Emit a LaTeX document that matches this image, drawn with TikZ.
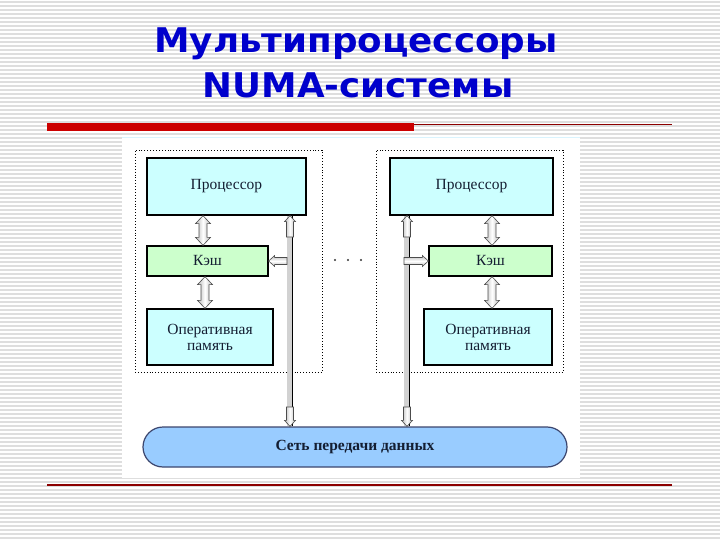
\documentclass[tikz,border=0pt]{standalone}
\usepackage{fontspec}
\setmainfont{Liberation Serif}
\newfontfamily\titlefont{DejaVu Sans}
\usetikzlibrary{calc}
\definecolor{ttlblue}{RGB}{0,0,204}
\definecolor{boxcyan}{RGB}{204,255,255}
\definecolor{boxgreen}{RGB}{204,255,204}
\definecolor{busblue}{RGB}{153,204,255}
\definecolor{busline}{RGB}{60,70,110}
\definecolor{barred}{RGB}{204,0,0}
\definecolor{linered}{RGB}{140,0,0}
\definecolor{txt}{RGB}{20,30,50}
\definecolor{stripe}{RGB}{222,222,222}
\tikzset{
  unitbox/.style={draw=black, line width=1.3pt, inner sep=0pt, align=center,
    font=\fontsize{15.5}{16}\selectfont, text=txt},
  groupbox/.style={draw=black, dotted, line width=0.9pt, inner sep=0pt},
  blk/.style={draw=black!70, line width=0.6pt, left color=gray!55, right color=gray!55, middle color=white},
  blkh/.style={draw=black!70, line width=0.6pt, top color=gray!55, bottom color=gray!55, middle color=white},
  busrail/.style={line width=6pt, gray!35},
  busedge/.style={line width=1.3pt, black},
  ttl/.style={font=\titlefont\bfseries\fontsize{34}{40}\selectfont, text=ttlblue, anchor=base, inner sep=0pt, xscale=1.05},
}
\newcommand{\dblV}[2]{\path[blk] let \p1=(#1), \p2=(#2) in
 (\x1,\y1) -- ({\x1+7.5pt},{\y1-8pt}) -- ({\x1+4pt},{\y1-8pt}) -- ({\x1+4pt},{\y2+8pt}) -- ({\x1+7.5pt},{\y2+8pt}) -- (\x1,\y2) -- ({\x1-7.5pt},{\y2+8pt}) -- ({\x1-4pt},{\y2+8pt}) -- ({\x1-4pt},{\y1-8pt}) -- ({\x1-7.5pt},{\y1-8pt}) -- cycle;}
\newcommand{\vArrow}[3]{\path[blk] let \p1=(#1), \p2=(#2) in
 (\x1,\y1) -- ({\x1+5.5pt},{\y1-(#3)*6pt}) -- ({\x1+3.5pt},{\y1-(#3)*6pt}) -- ({\x1+3.5pt},\y2) -- ({\x1-3.5pt},\y2) -- ({\x1-3.5pt},{\y1-(#3)*6pt}) -- ({\x1-5.5pt},{\y1-(#3)*6pt}) -- cycle;}
\newcommand{\hArrow}[3]{\path[blkh] let \p1=(#1), \p2=(#2) in
 (\x1,\y1) -- ({\x1+(#3)*6pt},{\y1+5.5pt}) -- ({\x1+(#3)*6pt},{\y1+3.5pt}) -- (\x2,{\y1+3.5pt}) -- (\x2,{\y1-3.5pt}) -- ({\x1+(#3)*6pt},{\y1-3.5pt}) -- ({\x1+(#3)*6pt},{\y1-5.5pt}) -- cycle;}
\begin{document}
\begin{tikzpicture}[x=1pt,y=-1pt]
\useasboundingbox (0,0) rectangle (720,540);
\fill[white] (0,0) rectangle (720,540);
\foreach \k in {0,...,134} \draw[stripe, line width=1.6pt] (0,{4*\k+2}) -- (720,{4*\k+2});
% title
\node[ttl] (t1) at (356,53) {Мультипроцессоры};
\node[ttl] (t2) at (358,98) {NUMA-системы};
\fill[barred] (47,123) rectangle (414,131);
\draw[linered, line width=0.8pt] (414,124) -- (672,124);
\draw[linered, line width=1.2pt] (47,485) -- (672,485);
% diagram background
\fill[white] (122,138) rectangle (580,478);
\draw[cyan!15, line width=1pt] (122,138) -- (580,138);
% groups
\node[groupbox, minimum width=187pt, minimum height=222pt] (gL) at (228.5,261) {};
\node[groupbox, minimum width=187pt, minimum height=222pt] (gR) at (469.5,261) {};
% boxes
\node[unitbox, fill=boxcyan, minimum width=159pt, minimum height=57pt] (pL) at (226.5,186.5) {Процессор};
\node[unitbox, fill=boxgreen, minimum width=121pt, minimum height=30pt] (cL) at (207.5,261) {Кэш};
\node[unitbox, fill=boxcyan, minimum width=126pt, minimum height=56pt] (mL) at (210,337) {Оперативная\\память};
\node[unitbox, fill=boxcyan, minimum width=163pt, minimum height=57pt] (pR) at (471.5,186.5) {Процессор};
\node[unitbox, fill=boxgreen, minimum width=123pt, minimum height=30pt] (cR) at (490.5,261) {Кэш};
\node[unitbox, fill=boxcyan, minimum width=128pt, minimum height=56pt] (mR) at (488,337) {Оперативная\\память};
\node[draw=busline, line width=1.2pt, fill=busblue, rounded corners=20pt, minimum width=424pt, minimum height=40pt,
  font=\bfseries\fontsize{15.5}{16}\selectfont, text=txt] (bus) at (355,447) {Сеть передачи данных};
% dots
\foreach \xx in {335,348,361} \fill[black!80] (\xx,260) circle (1.2pt);
% rails
\draw[busrail] (290,0 |- pL.south) -- (290,0 |- bus.north);
\draw[busedge] (292.5,0 |- pL.south) -- (292.5,0 |- bus.north);
\draw[busrail] (407,0 |- pR.south) -- (407,0 |- bus.north);
\draw[busedge] (409.5,0 |- pR.south) -- (409.5,0 |- bus.north);
\vArrow{290,0 |- pL.south}{290,237}{1}
\vArrow{290,0 |- bus.north}{290,407}{-1}
\vArrow{407,0 |- pR.south}{407,237}{1}
\vArrow{407,0 |- bus.north}{407,407}{-1}
\hArrow{cL.east}{287,261}{1}
\hArrow{cR.west}{404,261}{-1}
% double arrows
\dblV{203,0 |- pL.south}{203,0 |- cL.north}
\dblV{205,0 |- cL.south}{205,0 |- mL.north}
\dblV{492,0 |- pR.south}{492,0 |- cR.north}
\dblV{492,0 |- cR.south}{492,0 |- mR.north}
\end{tikzpicture}
\end{document}
